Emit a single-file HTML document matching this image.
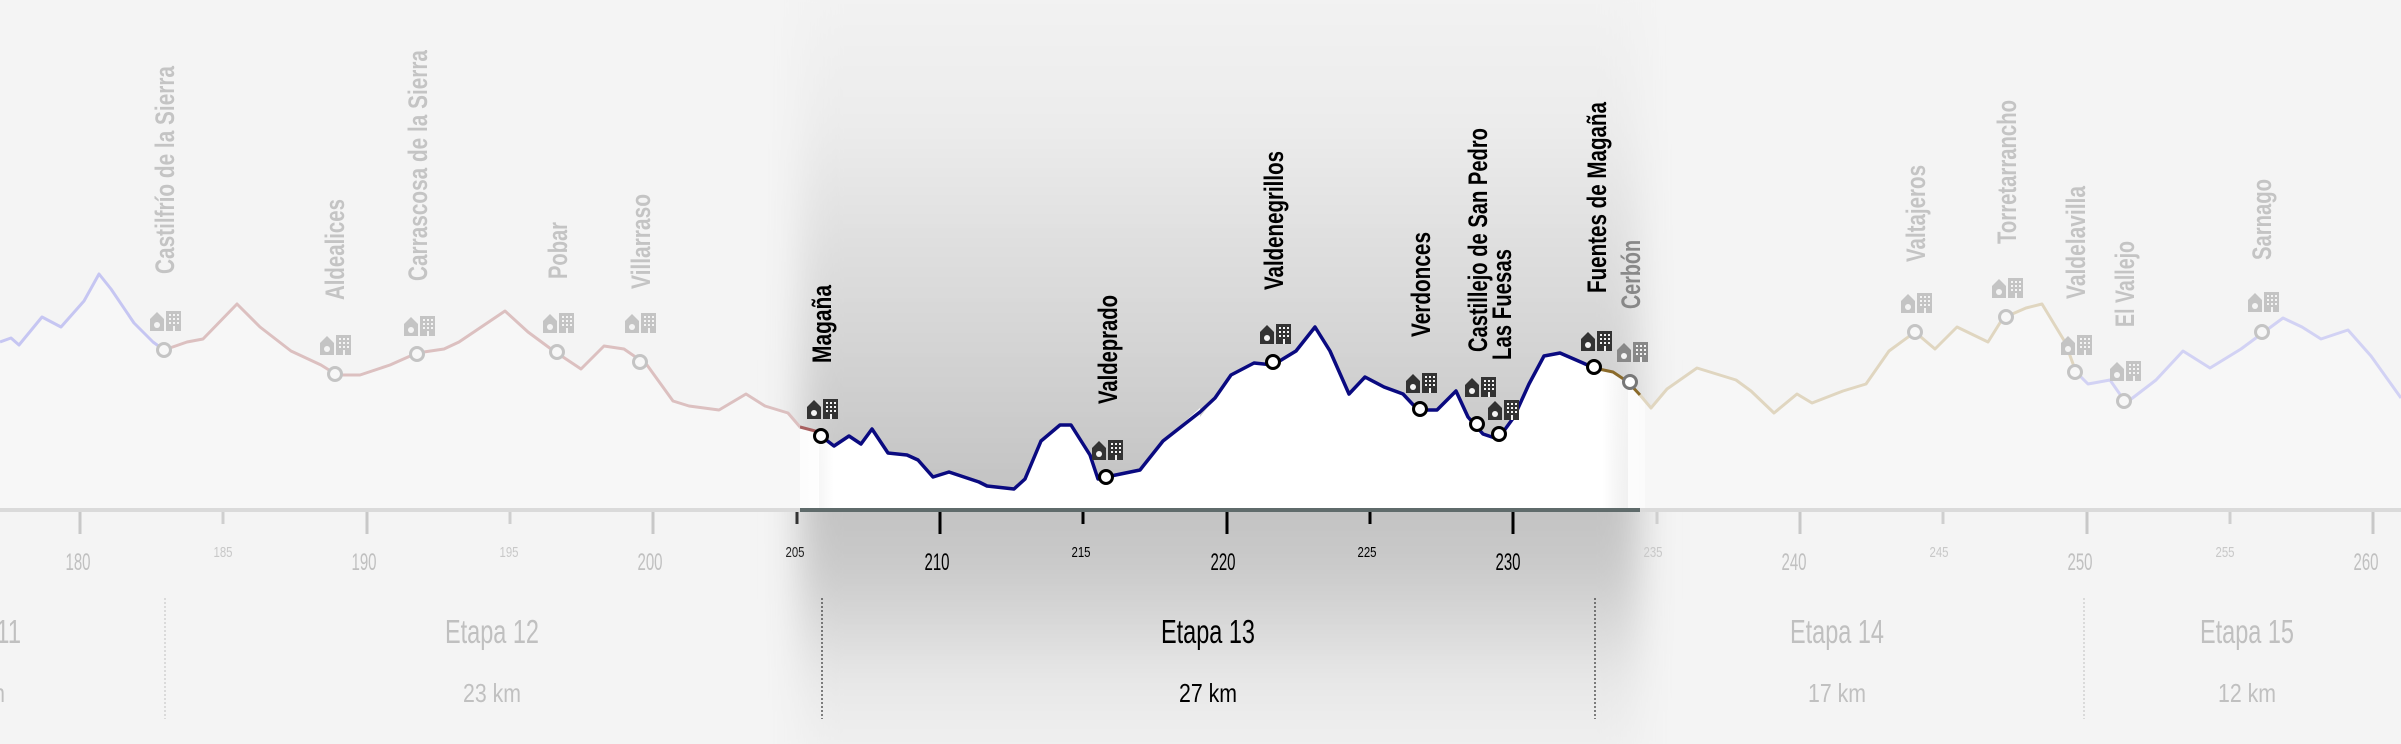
<!DOCTYPE html>
<html><head><meta charset="utf-8"><style>
html,body{margin:0;padding:0;background:#f4f4f4;}
svg{display:block;}
text{font-family:"Liberation Sans",sans-serif;}
</style></head><body>
<svg width="2401" height="744" viewBox="0 0 2401 744" xmlns="http://www.w3.org/2000/svg">
<defs>
<linearGradient id="hl" x1="0" y1="0" x2="0" y2="1">
<stop offset="0" stop-color="#f4f4f4"/>
<stop offset="0.2" stop-color="#ececec"/>
<stop offset="0.45" stop-color="#d6d6d6"/>
<stop offset="0.66" stop-color="#c2c2c2"/>
<stop offset="0.74" stop-color="#cacaca"/>
<stop offset="0.88" stop-color="#e8e8e8"/>
<stop offset="1" stop-color="#f3f3f3"/>
</linearGradient>
<linearGradient id="wf" x1="0" y1="0" x2="1" y2="0">
<stop offset="0" stop-color="#fff" stop-opacity="0.6"/>
<stop offset="0.04" stop-color="#fff" stop-opacity="1"/>
<stop offset="0.95" stop-color="#fff" stop-opacity="1"/>
<stop offset="1" stop-color="#fff" stop-opacity="0.5"/>
</linearGradient>
<filter id="bl" x="-10%" y="-10%" width="120%" height="120%"><feGaussianBlur stdDeviation="18"/></filter>
<g id="ic">
<path d="M-16,0 L-16,-12 L-9,-19 L-2,-12 L-2,0 Z"/>
<rect x="0" y="-20" width="15" height="20"/>
<circle cx="-9" cy="-6" r="3" fill="#f4f4f4"/>
<g fill="#f4f4f4"><rect x="3" y="-17" width="2" height="2"/><rect x="7" y="-17" width="2" height="2"/><rect x="11" y="-17" width="2" height="2"/><rect x="3" y="-13" width="2" height="2"/><rect x="7" y="-13" width="2" height="2"/><rect x="11" y="-13" width="2" height="2"/><rect x="3" y="-9" width="2" height="2"/><rect x="7" y="-9" width="2" height="2"/><rect x="11" y="-9" width="2" height="2"/><rect x="7" y="-5" width="2" height="5"/></g>
</g>
</defs>
<rect width="2401" height="744" fill="#f4f4f4"/>
<rect x="800" y="-40" width="840" height="820" fill="url(#hl)" filter="url(#bl)"/>
<polygon fill="#f7f7f7" points="0,342 11,338 19,345 42,317 61,327 84,301 99,274 111,289 134,323 153,342 164,350 187,342 203,339 237,304 260,327 291,351 321,365 337,375 360,375 390,365 417,353 444,349 459,342 505,311 528,332 551,349 581,369 604,346 624,349 647,365 673,401 689,406 719,410 746,394 765,406 788,413 800,427 819,432 819,510 0,510"/>
<polygon fill="#f7f7f7" points="1628,382 1651,408 1667,389 1697,368 1736,380 1751,391 1774,413 1797,394 1812,403 1843,391 1866,384 1889,351 1915,332 1935,349 1957,327 1988,342 2003,318 2026,308 2042,304 2065,342 2076,372 2088,384 2110,380 2126,403 2156,380 2183,351 2210,368 2241,349 2264,332 2283,318 2302,327 2321,339 2348,330 2371,356 2401,398 2401,510 1628,510"/>
<polygon fill="url(#wf)" points="800,427 819,436 834,446 849,436 861,444 872,429 888,453 907,455 918,460 933,477 949,472 979,482 987,486 1014,489 1025,479 1041,441 1060,425 1071,425 1090,455 1098,479 1106,477 1140,470 1163,441 1200,408 1200,417 1215,398 1231,375 1254,363 1273,365 1296,351 1315,327 1330,351 1349,394 1365,377 1384,387 1403,394 1418,410 1437,410 1456,391 1468,417 1483,434 1498,439 1514,417 1529,384 1544,356 1560,353 1583,363 1594,368 1613,372 1628,382 1645,400 1645,510 800,510"/>
<g fill="none" stroke-width="3" stroke-linejoin="round">
<polyline stroke="#c6c6f2" points="0,342 11,338 19,345 42,317 61,327 84,301 99,274 111,289 134,323 153,342 164,350"/>
<polyline stroke="#dcc0c0" points="164,350 187,342 203,339 237,304 260,327 291,351 321,365 337,375 360,375 390,365 417,353 444,349 459,342 505,311 528,332 551,349 581,369 604,346 624,349 647,365 673,401 689,406 719,410 746,394 765,406 788,413 800,427"/>
<polyline stroke="#a86060" points="800,427 819,432 821,436"/>
<polyline stroke="#0a0a80" stroke-width="3.5" points="821,436 834,446 849,436 861,444 872,429 888,453 907,455 918,460 933,477 949,472 979,482 987,486 1014,489 1025,479 1041,441 1060,425 1071,425 1090,455 1098,479 1106,477 1140,470 1163,441 1200,412 1215,398 1231,375 1254,363 1273,365 1296,351 1315,327 1330,351 1349,394 1365,377 1384,387 1403,394 1418,410 1437,410 1456,391 1468,417 1483,434 1498,439 1514,417 1529,384 1544,356 1560,353 1583,363 1594,368"/>
<polyline stroke="#8a6a2a" points="1594,368 1613,372 1628,382 1640,395"/>
<polyline stroke="#e0d6c0" points="1640,395 1651,408 1667,389 1697,368 1736,380 1751,391 1774,413 1797,394 1812,403 1843,391 1866,384 1889,351 1915,332 1935,349 1957,327 1988,342 2003,318 2026,308 2042,304 2065,342 2076,372"/>
<polyline stroke="#d2d2f4" points="2076,372 2088,384 2110,380 2126,403 2156,380 2183,351 2210,368 2241,349 2264,332 2283,318 2302,327 2321,339 2348,330 2371,356 2401,398"/>
</g>
<rect x="0" y="508" width="2401" height="4" fill="#dadada"/>
<rect x="800" y="508" width="840" height="4" fill="#5f6b6b"/>
<g stroke-width="3">
<line x1="80" y1="512" x2="80" y2="534" stroke="#c8c8c8"/>
<line x1="223" y1="512" x2="223" y2="524" stroke="#cfcfcf"/>
<line x1="367" y1="512" x2="367" y2="534" stroke="#c8c8c8"/>
<line x1="510" y1="512" x2="510" y2="524" stroke="#cfcfcf"/>
<line x1="653" y1="512" x2="653" y2="534" stroke="#c8c8c8"/>
<line x1="797" y1="512" x2="797" y2="524" stroke="#333"/>
<line x1="940" y1="512" x2="940" y2="534" stroke="#000"/>
<line x1="1083" y1="512" x2="1083" y2="524" stroke="#000"/>
<line x1="1227" y1="512" x2="1227" y2="534" stroke="#000"/>
<line x1="1370" y1="512" x2="1370" y2="524" stroke="#000"/>
<line x1="1513" y1="512" x2="1513" y2="534" stroke="#000"/>
<line x1="1657" y1="512" x2="1657" y2="524" stroke="#cfcfcf"/>
<line x1="1800" y1="512" x2="1800" y2="534" stroke="#c8c8c8"/>
<line x1="1943" y1="512" x2="1943" y2="524" stroke="#cfcfcf"/>
<line x1="2087" y1="512" x2="2087" y2="534" stroke="#c8c8c8"/>
<line x1="2230" y1="512" x2="2230" y2="524" stroke="#cfcfcf"/>
<line x1="2373" y1="512" x2="2373" y2="534" stroke="#c8c8c8"/>
</g>
<g text-anchor="middle" font-size="24">
<text x="78" y="570" fill="#c0c0c0" textLength="25" lengthAdjust="spacingAndGlyphs">180</text>
<text x="364" y="570" fill="#c0c0c0" textLength="25" lengthAdjust="spacingAndGlyphs">190</text>
<text x="650" y="570" fill="#c0c0c0" textLength="25" lengthAdjust="spacingAndGlyphs">200</text>
<text x="937" y="570" fill="#000" textLength="25" lengthAdjust="spacingAndGlyphs">210</text>
<text x="1223" y="570" fill="#000" textLength="25" lengthAdjust="spacingAndGlyphs">220</text>
<text x="1508" y="570" fill="#000" textLength="25" lengthAdjust="spacingAndGlyphs">230</text>
<text x="1794" y="570" fill="#c0c0c0" textLength="25" lengthAdjust="spacingAndGlyphs">240</text>
<text x="2080" y="570" fill="#c0c0c0" textLength="25" lengthAdjust="spacingAndGlyphs">250</text>
<text x="2366" y="570" fill="#c0c0c0" textLength="25" lengthAdjust="spacingAndGlyphs">260</text>
</g>
<g text-anchor="middle" font-size="15">
<text x="223" y="557" fill="#c8c8c8" textLength="19" lengthAdjust="spacingAndGlyphs">185</text>
<text x="509" y="557" fill="#c8c8c8" textLength="19" lengthAdjust="spacingAndGlyphs">195</text>
<text x="795" y="557" fill="#222" textLength="19" lengthAdjust="spacingAndGlyphs">205</text>
<text x="1081" y="557" fill="#000" textLength="19" lengthAdjust="spacingAndGlyphs">215</text>
<text x="1367" y="557" fill="#000" textLength="19" lengthAdjust="spacingAndGlyphs">225</text>
<text x="1653" y="557" fill="#c8c8c8" textLength="19" lengthAdjust="spacingAndGlyphs">235</text>
<text x="1939" y="557" fill="#c8c8c8" textLength="19" lengthAdjust="spacingAndGlyphs">245</text>
<text x="2225" y="557" fill="#c8c8c8" textLength="19" lengthAdjust="spacingAndGlyphs">255</text>
</g>
<g stroke-width="1.2" stroke-dasharray="2,2">
<line x1="165" y1="598" x2="165" y2="719" stroke="#c8c8c8"/>
<line x1="822" y1="598" x2="822" y2="719" stroke="#333"/>
<line x1="1595" y1="598" x2="1595" y2="719" stroke="#333"/>
<line x1="2084" y1="598" x2="2084" y2="719" stroke="#c8c8c8"/>
</g>
<g text-anchor="middle">
<text x="-26" y="643" font-size="33" fill="#c0c0c0" textLength="94" lengthAdjust="spacingAndGlyphs">Etapa 11</text>
<text x="-24" y="702" font-size="26" fill="#c0c0c0" textLength="58" lengthAdjust="spacingAndGlyphs">22 km</text>
<text x="492" y="643" font-size="33" fill="#c0c0c0" textLength="94" lengthAdjust="spacingAndGlyphs">Etapa 12</text>
<text x="492" y="702" font-size="26" fill="#c0c0c0" textLength="58" lengthAdjust="spacingAndGlyphs">23 km</text>
<text x="1208" y="643" font-size="33" fill="#000" textLength="94" lengthAdjust="spacingAndGlyphs">Etapa 13</text>
<text x="1208" y="702" font-size="26" fill="#000" textLength="58" lengthAdjust="spacingAndGlyphs">27 km</text>
<text x="1837" y="643" font-size="33" fill="#c0c0c0" textLength="94" lengthAdjust="spacingAndGlyphs">Etapa 14</text>
<text x="1837" y="702" font-size="26" fill="#c0c0c0" textLength="58" lengthAdjust="spacingAndGlyphs">17 km</text>
<text x="2247" y="643" font-size="33" fill="#c0c0c0" textLength="94" lengthAdjust="spacingAndGlyphs">Etapa 15</text>
<text x="2247" y="702" font-size="26" fill="#c0c0c0" textLength="58" lengthAdjust="spacingAndGlyphs">12 km</text>
</g>
<g fill="#c4c4c4">
<use href="#ic" x="166" y="331"/>
<use href="#ic" x="336" y="355"/>
<use href="#ic" x="420" y="336"/>
<use href="#ic" x="559" y="333"/>
<use href="#ic" x="641" y="333"/>
<use href="#ic" x="1917" y="313"/>
<use href="#ic" x="2008" y="298"/>
<use href="#ic" x="2077" y="355"/>
<use href="#ic" x="2126" y="381"/>
<use href="#ic" x="2264" y="312"/>
</g>
<g fill="#333">
<use href="#ic" x="823" y="419"/>
<use href="#ic" x="1108" y="460"/>
<use href="#ic" x="1276" y="344"/>
<use href="#ic" x="1422" y="393"/>
<use href="#ic" x="1481" y="397"/>
<use href="#ic" x="1504" y="420"/>
<use href="#ic" x="1597" y="351"/>
</g>
<g fill="#888"><use href="#ic" x="1633" y="362"/></g>
<g fill="#f7f7f7" stroke="#c4c4c4" stroke-width="3">
<circle cx="164" cy="350" r="6.5"/><circle cx="335" cy="374" r="6.5"/><circle cx="417" cy="354" r="6.5"/><circle cx="557" cy="352" r="6.5"/><circle cx="640" cy="362" r="6.5"/>
<circle cx="1915" cy="332" r="6.5"/><circle cx="2006" cy="317" r="6.5"/><circle cx="2075" cy="372" r="6.5"/><circle cx="2124" cy="401" r="6.5"/><circle cx="2262" cy="332" r="6.5"/>
</g>
<g fill="#fff" stroke="#000" stroke-width="3">
<circle cx="821" cy="436" r="6.5"/><circle cx="1106" cy="477" r="6.5"/><circle cx="1273" cy="362" r="6.5"/><circle cx="1420" cy="409" r="6.5"/><circle cx="1477" cy="424" r="6.5"/><circle cx="1499" cy="434" r="6.5"/><circle cx="1594" cy="367" r="6.5"/>
</g>
<circle cx="1630" cy="382" r="6.5" fill="#fff" stroke="#777" stroke-width="3"/>
<g font-weight="bold" font-size="27">
<text transform="translate(174,274) rotate(-90)" fill="#c4c4c4" textLength="208" lengthAdjust="spacingAndGlyphs">Castilfrío de la Sierra</text>
<text transform="translate(344,300) rotate(-90)" fill="#c4c4c4" textLength="101" lengthAdjust="spacingAndGlyphs">Aldealices</text>
<text transform="translate(427,281) rotate(-90)" fill="#c4c4c4" textLength="231" lengthAdjust="spacingAndGlyphs">Carrascosa de la Sierra</text>
<text transform="translate(567,279) rotate(-90)" fill="#c4c4c4" textLength="57" lengthAdjust="spacingAndGlyphs">Pobar</text>
<text transform="translate(650,289) rotate(-90)" fill="#c4c4c4" textLength="95" lengthAdjust="spacingAndGlyphs">Villarraso</text>
<text transform="translate(831,363) rotate(-90)" fill="#000" textLength="78" lengthAdjust="spacingAndGlyphs">Magaña</text>
<text transform="translate(1117,404) rotate(-90)" fill="#000" textLength="109" lengthAdjust="spacingAndGlyphs">Valdeprado</text>
<text transform="translate(1283,290) rotate(-90)" fill="#000" textLength="139" lengthAdjust="spacingAndGlyphs">Valdenegrillos</text>
<text transform="translate(1430,337) rotate(-90)" fill="#000" textLength="105" lengthAdjust="spacingAndGlyphs">Verdonces</text>
<text transform="translate(1487,352) rotate(-90)" fill="#000" textLength="224" lengthAdjust="spacingAndGlyphs">Castillejo de San Pedro</text>
<text transform="translate(1511,360) rotate(-90)" fill="#000" textLength="111" lengthAdjust="spacingAndGlyphs">Las Fuesas</text>
<text transform="translate(1606,293) rotate(-90)" fill="#000" textLength="191" lengthAdjust="spacingAndGlyphs">Fuentes de Magaña</text>
<text transform="translate(1640,309) rotate(-90)" fill="#888" textLength="69" lengthAdjust="spacingAndGlyphs">Cerbón</text>
<text transform="translate(1925,262) rotate(-90)" fill="#c4c4c4" textLength="97" lengthAdjust="spacingAndGlyphs">Valtajeros</text>
<text transform="translate(2016,244) rotate(-90)" fill="#c4c4c4" textLength="144" lengthAdjust="spacingAndGlyphs">Torretarrancho</text>
<text transform="translate(2085,299) rotate(-90)" fill="#c4c4c4" textLength="113" lengthAdjust="spacingAndGlyphs">Valdelavilla</text>
<text transform="translate(2134,327) rotate(-90)" fill="#c4c4c4" textLength="86" lengthAdjust="spacingAndGlyphs">El Vallejo</text>
<text transform="translate(2271,260) rotate(-90)" fill="#c4c4c4" textLength="81" lengthAdjust="spacingAndGlyphs">Sarnago</text>
</g>
</svg>
</body></html>
